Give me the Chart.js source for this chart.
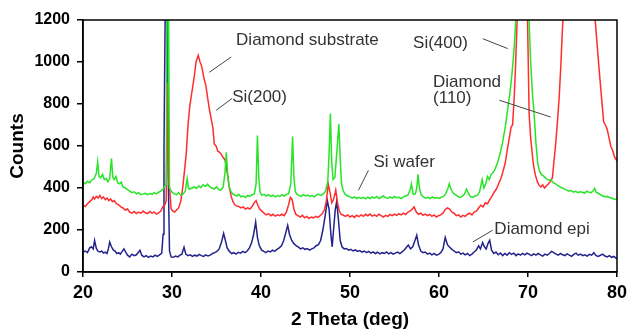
<!DOCTYPE html>
<html>
<head>
<meta charset="utf-8">
<title>XRD</title>
<script src="https://cdn.jsdelivr.net/npm/chart.js@4.4.1/dist/chart.umd.min.js"></script>
<style>
  html, body { margin: 0; padding: 0; background: #fff; }
  canvas { display: block; }
</style>
</head>
<body>
<canvas id="xrd" width="632" height="332"></canvas>
<script>
// 2 theta (deg), counts
const siWafer = [
  [20.0, 428], [20.25, 420], [20.5, 432], [20.75, 425], [21.0, 438], [21.25, 445], [21.5, 470], [21.65, 525],
  [21.8, 455], [22.0, 448], [22.2, 465], [22.4, 440], [22.6, 445], [22.8, 430], [23.0, 445], [23.2, 540],
  [23.35, 450], [23.5, 440], [23.7, 455], [23.9, 425], [24.1, 420], [24.3, 428], [24.5, 405], [24.75, 400],
  [25.0, 392], [25.25, 385], [25.5, 378], [25.75, 382], [26.0, 372], [26.25, 378], [26.5, 368], [26.75, 372],
  [27.0, 375], [27.25, 368], [27.5, 374], [27.75, 370], [28.0, 378], [28.25, 372], [28.5, 380], [28.75, 385],
  [29.0, 395], [29.2, 410], [29.35, 415], [29.45, 1400], [29.6, 1400], [29.72, 400], [29.85, 390], [30.0, 380],
  [30.25, 372], [30.5, 368], [30.75, 378], [31.0, 365], [31.25, 372], [31.5, 385], [31.7, 445], [31.85, 400],
  [32.0, 395], [32.25, 400], [32.5, 405], [32.75, 398], [33.0, 410], [33.25, 402], [33.5, 415], [33.75, 408],
  [34.0, 418], [34.25, 405], [34.5, 400], [34.75, 395], [35.0, 405], [35.25, 392], [35.5, 390], [35.75, 405],
  [35.95, 470], [36.1, 570], [36.25, 470], [36.4, 410], [36.6, 385], [36.8, 372], [37.0, 368], [37.25, 362],
  [37.5, 370], [37.75, 358], [38.0, 362], [38.25, 355], [38.5, 365], [38.75, 360], [39.0, 368], [39.25, 372],
  [39.45, 420], [39.6, 650], [39.75, 450], [39.9, 380], [40.1, 365], [40.35, 370], [40.6, 362], [40.85, 368],
  [41.1, 360], [41.35, 366], [41.6, 358], [41.85, 364], [42.1, 360], [42.35, 368], [42.6, 362], [42.85, 370],
  [43.1, 372], [43.35, 420], [43.55, 645], [43.7, 450], [43.85, 385], [44.0, 372], [44.25, 365], [44.5, 360],
  [44.75, 368], [45.0, 362], [45.25, 366], [45.5, 360], [45.75, 364], [46.0, 358], [46.25, 368], [46.5, 370],
  [46.75, 365], [47.0, 372], [47.25, 385], [47.5, 430], [47.65, 560], [47.8, 755], [47.95, 520], [48.1, 440],
  [48.3, 450], [48.5, 560], [48.75, 705], [48.9, 540], [49.05, 420], [49.25, 385], [49.5, 368], [49.75, 362],
  [50.0, 358], [50.25, 352], [50.5, 358], [50.75, 350], [51.0, 356], [51.25, 350], [51.5, 355], [51.75, 348],
  [52.0, 356], [52.25, 350], [52.5, 358], [52.75, 352], [53.0, 360], [53.25, 350], [53.5, 356], [53.75, 362],
  [54.0, 354], [54.25, 350], [54.5, 358], [54.75, 352], [55.0, 360], [55.25, 354], [55.5, 356], [55.75, 350],
  [56.0, 358], [56.25, 362], [56.5, 366], [56.75, 390], [56.9, 420], [57.1, 370], [57.35, 372], [57.5, 400],
  [57.65, 465], [57.8, 400], [58.0, 368], [58.25, 358], [58.5, 352], [58.75, 356], [59.0, 350], [59.25, 358],
  [59.5, 352], [59.75, 355], [60.0, 350], [60.25, 356], [60.5, 360], [60.75, 372], [61.0, 398], [61.15, 420],
  [61.35, 395], [61.6, 375], [61.85, 368], [62.1, 360], [62.35, 355], [62.6, 360], [62.85, 370], [63.1, 395],
  [63.3, 375], [63.55, 358], [63.8, 355], [64.05, 362], [64.3, 365], [64.55, 380], [64.85, 440], [65.05, 400],
  [65.25, 420], [65.45, 455], [65.65, 440], [65.85, 465], [66.05, 472], [66.3, 490], [66.6, 522], [66.9, 570],
  [67.15, 618], [67.45, 690], [67.7, 770], [67.9, 830], [68.1, 900], [68.3, 990], [68.5, 1100], [68.65, 1220],
  [69.3, 2200], [70.1, 1220], [70.3, 1000], [70.5, 850], [70.7, 745], [70.9, 610], [71.1, 515], [71.3, 480],
  [71.55, 462], [71.8, 455], [72.05, 445], [72.3, 438], [72.6, 438], [72.85, 425], [73.1, 420], [73.35, 412],
  [73.6, 405], [73.85, 400], [74.1, 396], [74.35, 390], [74.6, 385], [74.85, 388], [75.1, 380], [75.35, 384],
  [75.6, 378], [75.85, 382], [76.1, 380], [76.35, 375], [76.6, 385], [76.85, 380], [77.1, 378], [77.35, 388],
  [77.5, 398], [77.65, 380], [77.9, 375], [78.15, 368], [78.4, 362], [78.65, 358], [78.9, 360], [79.15, 355],
  [79.4, 352], [79.65, 348], [79.9, 345], [80.0, 342]
];

const diamondSubstrate = [
  [20.0, 318], [20.25, 312], [20.5, 325], [20.75, 335], [21.0, 345], [21.15, 357], [21.3, 348], [21.5, 360],
  [21.7, 352], [21.9, 365], [22.1, 350], [22.3, 358], [22.5, 345], [22.7, 352], [22.9, 340], [23.1, 348],
  [23.3, 335], [23.5, 340], [23.75, 325], [24.0, 320], [24.25, 310], [24.5, 305], [24.75, 295], [25.0, 300],
  [25.25, 285], [25.5, 280], [25.75, 288], [26.0, 278], [26.25, 285], [26.5, 280], [26.75, 290], [27.0, 282],
  [27.25, 278], [27.5, 288], [27.75, 280], [28.0, 285], [28.25, 276], [28.5, 282], [28.75, 290], [28.95, 310],
  [29.2, 320], [29.35, 340], [29.5, 900], [29.62, 430], [29.75, 390], [29.9, 300], [30.1, 290], [30.3, 285],
  [30.5, 295], [30.75, 305], [31.0, 340], [31.2, 400], [31.4, 480], [31.6, 565], [31.8, 700], [32.0, 790],
  [32.3, 875], [32.5, 930], [32.7, 1000], [32.95, 1032], [33.15, 1000], [33.3, 985], [33.45, 955], [33.6, 920],
  [33.8, 890], [34.0, 830], [34.2, 775], [34.4, 730], [34.6, 685], [34.75, 610], [34.95, 600], [35.15, 575],
  [35.35, 570], [35.55, 560], [35.75, 545], [35.95, 535], [36.1, 500], [36.25, 460], [36.45, 400], [36.65, 360],
  [36.85, 335], [37.05, 320], [37.25, 315], [37.5, 312], [37.75, 305], [38.0, 310], [38.25, 300], [38.5, 306],
  [38.75, 300], [39.0, 312], [39.25, 330], [39.45, 340], [39.65, 318], [39.85, 300], [40.1, 290], [40.35, 280],
  [40.6, 272], [40.85, 278], [41.1, 268], [41.35, 275], [41.6, 266], [41.85, 272], [42.1, 268], [42.35, 275],
  [42.6, 268], [42.85, 285], [43.1, 320], [43.3, 355], [43.5, 345], [43.7, 300], [43.9, 275], [44.15, 268],
  [44.4, 262], [44.65, 270], [44.9, 258], [45.15, 265], [45.4, 255], [45.65, 262], [45.9, 258], [46.15, 265],
  [46.4, 260], [46.65, 268], [46.9, 278], [47.15, 300], [47.35, 340], [47.55, 420], [47.75, 380], [47.95, 330],
  [48.15, 345], [48.4, 390], [48.6, 330], [48.8, 290], [49.0, 275], [49.25, 270], [49.5, 265], [49.75, 272],
  [50.0, 262], [50.25, 268], [50.5, 260], [50.75, 270], [51.0, 264], [51.25, 272], [51.5, 265], [51.75, 275],
  [52.0, 268], [52.25, 276], [52.5, 266], [52.75, 272], [53.0, 265], [53.25, 275], [53.5, 268], [53.75, 262],
  [54.0, 270], [54.25, 265], [54.5, 274], [54.75, 268], [55.0, 276], [55.25, 270], [55.5, 278], [55.75, 272],
  [56.0, 280], [56.25, 274], [56.5, 285], [56.75, 290], [57.0, 300], [57.2, 310], [57.45, 285], [57.7, 275],
  [57.95, 280], [58.2, 270], [58.45, 276], [58.7, 268], [58.95, 274], [59.2, 265], [59.45, 272], [59.7, 262],
  [59.95, 268], [60.2, 272], [60.45, 280], [60.7, 298], [60.95, 305], [61.2, 300], [61.45, 285], [61.7, 280],
  [61.95, 268], [62.2, 272], [62.45, 262], [62.7, 270], [62.95, 265], [63.2, 275], [63.45, 280], [63.7, 272],
  [63.95, 285], [64.2, 290], [64.45, 305], [64.7, 318], [64.95, 310], [65.2, 330], [65.45, 325], [65.7, 345],
  [65.95, 360], [66.2, 380], [66.45, 395], [66.7, 420], [66.95, 445], [67.2, 480], [67.45, 520], [67.7, 590],
  [67.95, 650], [68.1, 690], [68.27, 700], [68.45, 830], [68.6, 980], [68.8, 1220], [69.4, 2600], [69.95, 1200],
  [70.13, 750], [70.3, 640], [70.5, 555], [70.65, 500], [70.84, 460], [71.05, 430], [71.25, 413], [71.45, 405],
  [71.65, 415], [71.85, 400], [72.05, 410], [72.25, 418], [72.5, 430], [72.75, 450], [72.9, 520], [73.07, 590],
  [73.3, 710], [73.5, 830], [73.7, 990], [73.85, 1140], [74.0, 1260], [75.8, 3500], [77.55, 1200], [78.0, 960],
  [78.5, 715], [78.7, 700], [78.9, 680], [79.1, 640], [79.3, 600], [79.5, 580], [79.75, 545], [80.0, 530]
];

const diamondEpi = [
  [20.0, 95], [20.25, 100], [20.5, 92], [20.75, 115], [20.95, 120], [21.15, 110], [21.3, 150], [21.5, 112],
  [21.7, 98], [21.9, 95], [22.1, 100], [22.3, 90], [22.5, 95], [22.7, 88], [22.85, 110], [23.0, 143],
  [23.2, 120], [23.4, 105], [23.6, 100], [23.8, 88], [24.0, 92], [24.2, 85], [24.4, 98], [24.6, 110],
  [24.8, 95], [25.0, 80], [25.25, 72], [25.5, 85], [25.75, 78], [26.0, 82], [26.25, 95], [26.4, 103],
  [26.6, 80], [26.85, 72], [27.1, 78], [27.35, 70], [27.6, 76], [27.85, 72], [28.1, 80], [28.35, 74],
  [28.6, 82], [28.85, 90], [29.0, 180], [29.1, 600], [29.25, 1300], [29.45, 1300], [29.6, 400], [29.72, 100],
  [29.9, 72], [30.15, 70], [30.4, 76], [30.65, 72], [30.9, 80], [31.1, 85], [31.35, 118], [31.55, 85],
  [31.8, 78], [32.05, 82], [32.3, 74], [32.55, 80], [32.8, 76], [33.05, 84], [33.3, 78], [33.55, 74],
  [33.8, 82], [34.05, 76], [34.3, 80], [34.55, 88], [34.8, 92], [35.05, 98], [35.3, 110], [35.55, 140],
  [35.8, 184], [36.0, 150], [36.2, 115], [36.45, 98], [36.7, 88], [36.95, 92], [37.2, 85], [37.45, 94],
  [37.7, 90], [37.95, 98], [38.2, 92], [38.45, 100], [38.7, 115], [38.95, 140], [39.15, 175], [39.4, 238],
  [39.6, 165], [39.8, 127], [40.05, 105], [40.3, 98], [40.55, 92], [40.8, 100], [41.05, 96], [41.3, 104],
  [41.55, 98], [41.8, 108], [42.05, 115], [42.3, 125], [42.55, 150], [42.8, 190], [43.0, 222], [43.2, 180],
  [43.45, 150], [43.7, 135], [43.95, 125], [44.2, 118], [44.45, 110], [44.7, 115], [44.95, 108], [45.2, 112],
  [45.45, 104], [45.7, 110], [45.95, 115], [46.2, 125], [46.45, 130], [46.7, 150], [46.95, 200], [47.2, 265],
  [47.45, 340], [47.65, 300], [47.85, 180], [48.0, 120], [48.15, 200], [48.35, 300], [48.5, 335], [48.7, 250],
  [48.9, 150], [49.1, 120], [49.35, 110], [49.6, 112], [49.85, 104], [50.1, 108], [50.35, 100], [50.6, 105],
  [50.85, 98], [51.1, 102], [51.35, 95], [51.6, 100], [51.85, 92], [52.1, 98], [52.35, 90], [52.6, 96],
  [52.85, 88], [53.1, 94], [53.35, 86], [53.6, 92], [53.85, 88], [54.1, 95], [54.35, 86], [54.6, 92],
  [54.85, 85], [55.1, 90], [55.35, 95], [55.6, 88], [55.85, 96], [56.1, 105], [56.35, 118], [56.55, 128],
  [56.8, 110], [57.05, 120], [57.3, 150], [57.5, 175], [57.7, 130], [57.95, 100], [58.2, 92], [58.45, 95],
  [58.7, 85], [58.95, 90], [59.2, 82], [59.45, 88], [59.7, 80], [59.95, 84], [60.2, 92], [60.45, 110],
  [60.7, 165], [60.95, 130], [61.2, 118], [61.45, 108], [61.7, 100], [61.95, 92], [62.2, 96], [62.45, 85],
  [62.7, 90], [62.95, 82], [63.2, 88], [63.45, 78], [63.7, 85], [63.95, 95], [64.2, 105], [64.45, 125],
  [64.65, 110], [64.9, 140], [65.1, 120], [65.3, 110], [65.5, 135], [65.7, 151], [65.9, 105], [66.15, 88],
  [66.4, 95], [66.65, 82], [66.9, 90], [67.15, 78], [67.4, 88], [67.65, 80], [67.9, 92], [68.15, 84],
  [68.4, 90], [68.65, 78], [68.9, 86], [69.15, 80], [69.4, 88], [69.65, 82], [69.9, 90], [70.15, 84],
  [70.4, 78], [70.65, 86], [70.9, 80], [71.15, 88], [71.4, 82], [71.65, 76], [71.9, 85], [72.15, 80],
  [72.4, 88], [72.65, 98], [72.9, 92], [73.15, 85], [73.4, 80], [73.65, 88], [73.9, 82], [74.15, 78],
  [74.4, 86], [74.65, 80], [74.9, 75], [75.15, 84], [75.4, 90], [75.65, 80], [75.9, 85], [76.15, 78],
  [76.4, 82], [76.65, 76], [76.9, 84], [77.15, 80], [77.4, 92], [77.65, 78], [77.9, 74], [78.15, 80],
  [78.4, 85], [78.65, 76], [78.9, 72], [79.15, 78], [79.4, 70], [79.65, 74], [79.9, 66], [80.0, 68]
];

const xTicks = [20, 30, 40, 50, 60, 70, 80];
const yTicks = [0, 200, 400, 600, 800, 1000, 1200];

// peak labels: text, where the text starts (2theta, counts), leader line from -> to
const noteText = ['Diamond substrate', 'Si(200)', 'Si(400)', 'Diamond', '(110)', 'Si wafer', 'Diamond epi'];
const notePlace = [[37.2, 1101], [36.76, 833], [57.09, 1088], [59.33, 905], [59.33, 826], [52.63, 524], [66.22, 203]];
const leaders = [
  [[36.65, 1024], [34.19, 951]],
  [[36.76, 827], [34.97, 770]],
  [[64.92, 1111], [67.71, 1064]],
  [[66.78, 818], [72.55, 738]],
  [[52.07, 484], [50.95, 389]],
  [[66.03, 199], [63.8, 143]]
];

const toPoints = (pairs) => pairs.map(([x, y]) => ({ x, y }));

const framePlugin = {
  id: 'frame',
  afterDatasetsDraw(chart) {
    const { ctx, chartArea: a } = chart;
    ctx.save();
    ctx.strokeStyle = '#000';
    ctx.lineWidth = 1.5;
    ctx.strokeRect(a.left, a.top, a.width, a.height);
    ctx.restore();
  }
};

const notesPlugin = {
  id: 'notes',
  afterDraw(chart) {
    const { ctx } = chart;
    const xs = chart.scales.x, ys = chart.scales.y;
    ctx.save();
    ctx.strokeStyle = '#444';
    ctx.lineWidth = 1;
    leaders.forEach(([from, to]) => {
      ctx.beginPath();
      ctx.moveTo(xs.getPixelForValue(from[0]), ys.getPixelForValue(from[1]));
      ctx.lineTo(xs.getPixelForValue(to[0]), ys.getPixelForValue(to[1]));
      ctx.stroke();
    });
    ctx.fillStyle = '#333';
    ctx.font = '17px "Liberation Sans", Arial, sans-serif';
    ctx.textAlign = 'left';
    ctx.textBaseline = 'middle';
    noteText.forEach((t, i) => {
      ctx.fillText(t, xs.getPixelForValue(notePlace[i][0]), ys.getPixelForValue(notePlace[i][1]));
    });
    ctx.restore();
  }
};

Chart.defaults.font.family = '"Liberation Sans", Arial, sans-serif';
Chart.defaults.color = '#000';

const ctx = document.getElementById('xrd');
new Chart(ctx, {
  type: 'line',
  data: {
    datasets: [
      { label: 'Si wafer', data: toPoints(siWafer), borderColor: 'rgb(40,228,40)', borderWidth: 1.5 },
      { label: 'Diamond substrate', data: toPoints(diamondSubstrate), borderColor: 'rgb(255,45,45)', borderWidth: 1.5 },
      { label: 'Diamond epi', data: toPoints(diamondEpi), borderColor: 'rgb(35,35,140)', borderWidth: 1.5 }
    ]
  },
  options: {
    responsive: false,
    animation: false,
    devicePixelRatio: 1,
    elements: { point: { radius: 0 }, line: { tension: 0 } },
    layout: { padding: { top: 20, right: 12, left: 0, bottom: 0 } },
    plugins: { legend: { display: false }, tooltip: { enabled: false } },
    scales: {
      x: {
        type: 'linear',
        min: 20,
        max: 80,
        afterBuildTicks: (s) => { s.ticks = xTicks.map((v) => ({ value: v })); },
        afterFit: (s) => { s.height = 60; },
        ticks: { font: { size: 18, weight: 'bold' }, padding: 5, maxRotation: 0, callback: (v) => String(v) },
        grid: { drawOnChartArea: false, tickLength: 5, color: '#000', lineWidth: 1.5 },
        border: { color: '#000', width: 1.5 },
        title: { display: true, text: '2 Theta (deg)', font: { size: 19, weight: 'bold' }, padding: { bottom: 1 } }
      },
      y: {
        min: 0,
        max: 1200,
        afterBuildTicks: (s) => { s.ticks = yTicks.map((v) => ({ value: v })); },
        afterFit: (s) => { s.width = 83; },
        ticks: { font: { size: 16, weight: 'bold' }, padding: 7, callback: (v) => String(v) },
        grid: { drawOnChartArea: false, tickLength: 6, color: '#000', lineWidth: 1.5 },
        border: { color: '#000', width: 1.5 },
        title: { display: true, text: 'Counts', font: { size: 19, weight: 'bold' }, padding: { top: 6 } }
      }
    }
  },
  plugins: [framePlugin, notesPlugin]
});
</script>
</body>
</html>
